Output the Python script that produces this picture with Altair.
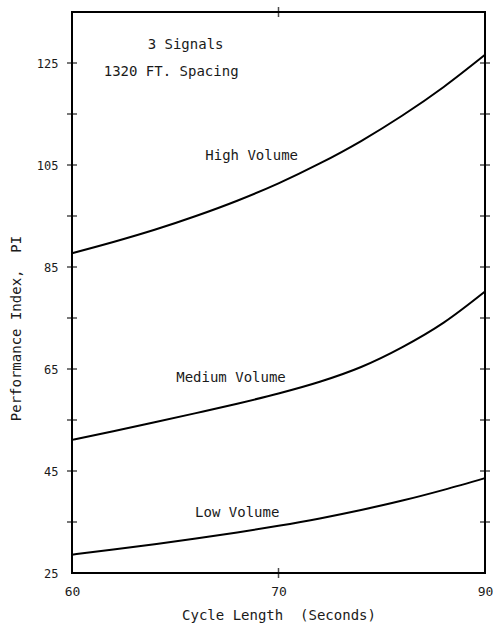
import altair as alt
import pandas as pd

# ---- data ----
cycle = [60, 62, 64, 66, 68, 70, 74, 78, 82, 86, 90]
high = [87.7, 89.9, 92.3, 95.0, 98.0, 101.4, 105.3, 109.7, 114.7, 120.3, 126.6]
medium = [51.1, 52.8, 54.55, 56.35, 58.2, 60.2, 62.5, 65.4, 69.3, 74.1, 80.2]
low = [28.6, 29.6, 30.65, 31.75, 32.95, 34.25, 35.7, 37.35, 39.2, 41.3, 43.6]

x_ticks = [60, 70, 90]
x_inner_ticks = [70]
y_labels = [25, 45, 65, 85, 105, 125]
y_ticks = [35, 45, 55, 65, 75, 85, 95, 105, 115, 125]

ann_text = ["3 Signals", "1320 FT. Spacing", "High Volume", "Medium Volume", "Low Volume"]
ann_x = [65.5, 64.8, 68.7, 67.7, 68.0]
ann_y = [128.6, 123.3, 106.7, 63.2, 36.7]

FONT = "DejaVu Sans Mono"
W, H = 413, 561

rows = []
for name, vals in [("High", high), ("Medium", medium), ("Low", low)]:
    for c, v in zip(cycle, vals):
        rows.append({"x": c, "y": v, "series": name})
df = pd.DataFrame(rows)

xscale = alt.Scale(domain=[60, 70, 90], range=[0, W / 2, W])
yscale = alt.Scale(domain=[25, 135], nice=False, zero=False)

lines = alt.Chart(df).mark_line(color="black", strokeWidth=2, interpolate="monotone").encode(
    x=alt.X("x:Q", scale=xscale,
            axis=alt.Axis(values=x_ticks, tickSize=0, domain=False, grid=False,
                          labelPadding=12, labelFlush=False, labelFontSize=13,
                          title="Cycle Length\u00a0\u00a0(Seconds)", titleY=42,
                          titleBaseline="middle", titleFontSize=14)),
    y=alt.Y("y:Q", scale=yscale,
            axis=alt.Axis(values=y_labels, tickSize=0, domain=False, grid=False,
                          labelPadding=14, labelFlush=False, labelFontSize=12,
                          title="Performance Index,\u00a0\u00a0PI", titleX=-56, titleY=316,
                          titleBaseline="middle", titleFontSize=14)),
    detail="series:N",
)

ydf = pd.DataFrame({"y": y_ticks})
left_ticks = alt.Chart(ydf).mark_tick(color="black", thickness=1.5, size=10, orient="horizontal").encode(
    y=alt.Y("y:Q", scale=yscale), x=alt.value(0))
right_ticks = alt.Chart(ydf).mark_tick(color="black", thickness=1.5, size=10, orient="horizontal").encode(
    y=alt.Y("y:Q", scale=yscale), x=alt.value(W))

xdf = pd.DataFrame({"x": x_inner_ticks})
bottom_ticks = alt.Chart(xdf).mark_tick(color="black", thickness=1.5, size=10, orient="vertical").encode(
    x=alt.X("x:Q", scale=xscale), y=alt.value(H))
top_ticks = alt.Chart(xdf).mark_tick(color="black", thickness=1.5, size=10, orient="vertical").encode(
    x=alt.X("x:Q", scale=xscale), y=alt.value(0))

adf = pd.DataFrame({"x": ann_x, "y": ann_y, "t": ann_text})
texts = alt.Chart(adf).mark_text(font=FONT, fontSize=14, color="#1a1a1a", align="center",
                                 baseline="middle").encode(
    x=alt.X("x:Q", scale=xscale), y=alt.Y("y:Q", scale=yscale), text="t:N")

chart = alt.layer(lines, left_ticks, right_ticks, bottom_ticks, top_ticks, texts).properties(
    width=W, height=H,
    autosize=alt.AutoSizeParams(type="none"),
    padding={"left": 72, "top": 12, "right": 8, "bottom": 57},
    background="white",
).configure_view(stroke="black", strokeWidth=2).configure_axis(
    labelFont=FONT, titleFont=FONT, labelColor="#1a1a1a", titleColor="#1a1a1a",
    titleFontWeight="normal",
)

chart.save("out.html", embed_options={"renderer": "svg", "actions": False})
